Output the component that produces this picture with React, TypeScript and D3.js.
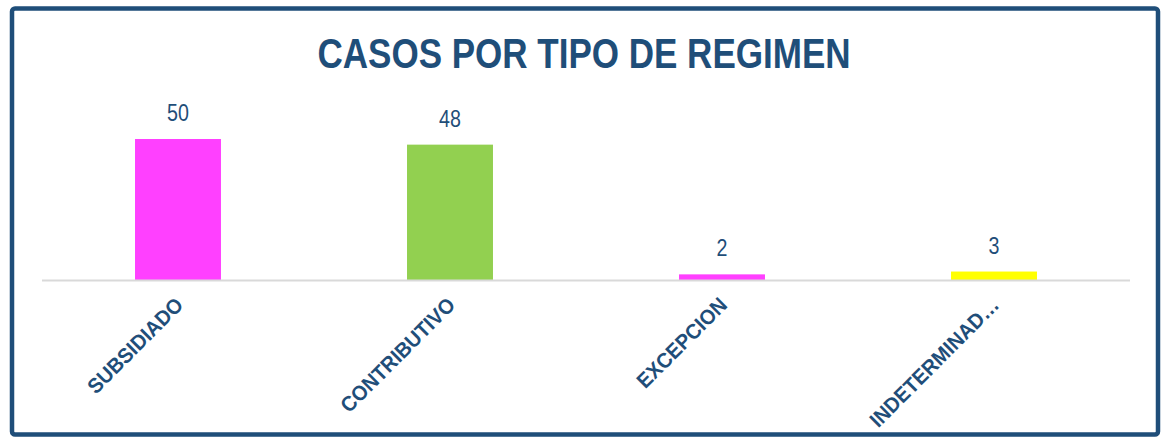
import React from 'react'
import * as d3 from 'd3'

const categories = ['SUBSIDIADO', 'CONTRIBUTIVO', 'EXCEPCION', 'INDETERMINAD…']
const values = [50, 48, 2, 3]
const barColors = ['#FF40FF', '#92D050', '#FF40FF', '#FFFF00']

const W = 1170
const H = 438
const navy = '#1F4E79'
// no narrow face installed, so squeeze Liberation Sans horizontally
const font = '"Liberation Sans", Arial, sans-serif'

const App = () => {
    const x = d3.scaleBand<string>()
        .domain(categories)
        .range([42, 1130])
        .paddingInner(0.684)
        .paddingOuter(0.342)
    const y = d3.scaleLinear()
        .domain([0, 50])
        .range([280, 139])

    return (
        <svg width={W} height={H} style={{ position: 'absolute', left: 0, top: 0 }}>
            <rect x={12} y={8.5} width={1146} height={426} rx={3} fill="#fff" stroke={navy} strokeWidth={4.5} />
            <text transform="translate(584,68) scale(0.834,1)" textAnchor="middle" fill={navy} fontFamily={font}
                fontWeight="bold" fontSize={42}>CASOS POR TIPO DE REGIMEN</text>

            {categories.map((c, i) => (
                <rect key={c} x={x(c)} y={y(values[i])} width={x.bandwidth()}
                    height={y(0) - y(values[i])} fill={barColors[i]} />
            ))}

            <line x1={42} x2={1130} y1={y(0) + 0.5} y2={y(0) + 0.5} stroke="#D9D9D9" strokeWidth={2} />

            {categories.map((c, i) => (
                <text key={'v' + c}
                    transform={`translate(${(x(c) ?? 0) + x.bandwidth() / 2},${y(values[i]) - 18}) scale(0.82,1)`}
                    textAnchor="middle" fill={navy} fontFamily={font} fontSize={24}>{values[i]}</text>
            ))}

            {categories.map((c) => {
                const cx = (x(c) ?? 0) + x.bandwidth() / 2
                return (
                    <text key={'l' + c} transform={`translate(${cx - 4},${296}) rotate(-45) scale(0.95,1)`}
                        textAnchor="end" dy="0.7em" fill={navy} fontFamily={font}
                        fontWeight="bold" fontSize={21}>{c}</text>
                )
            })}
        </svg>
    )
}

export default App
